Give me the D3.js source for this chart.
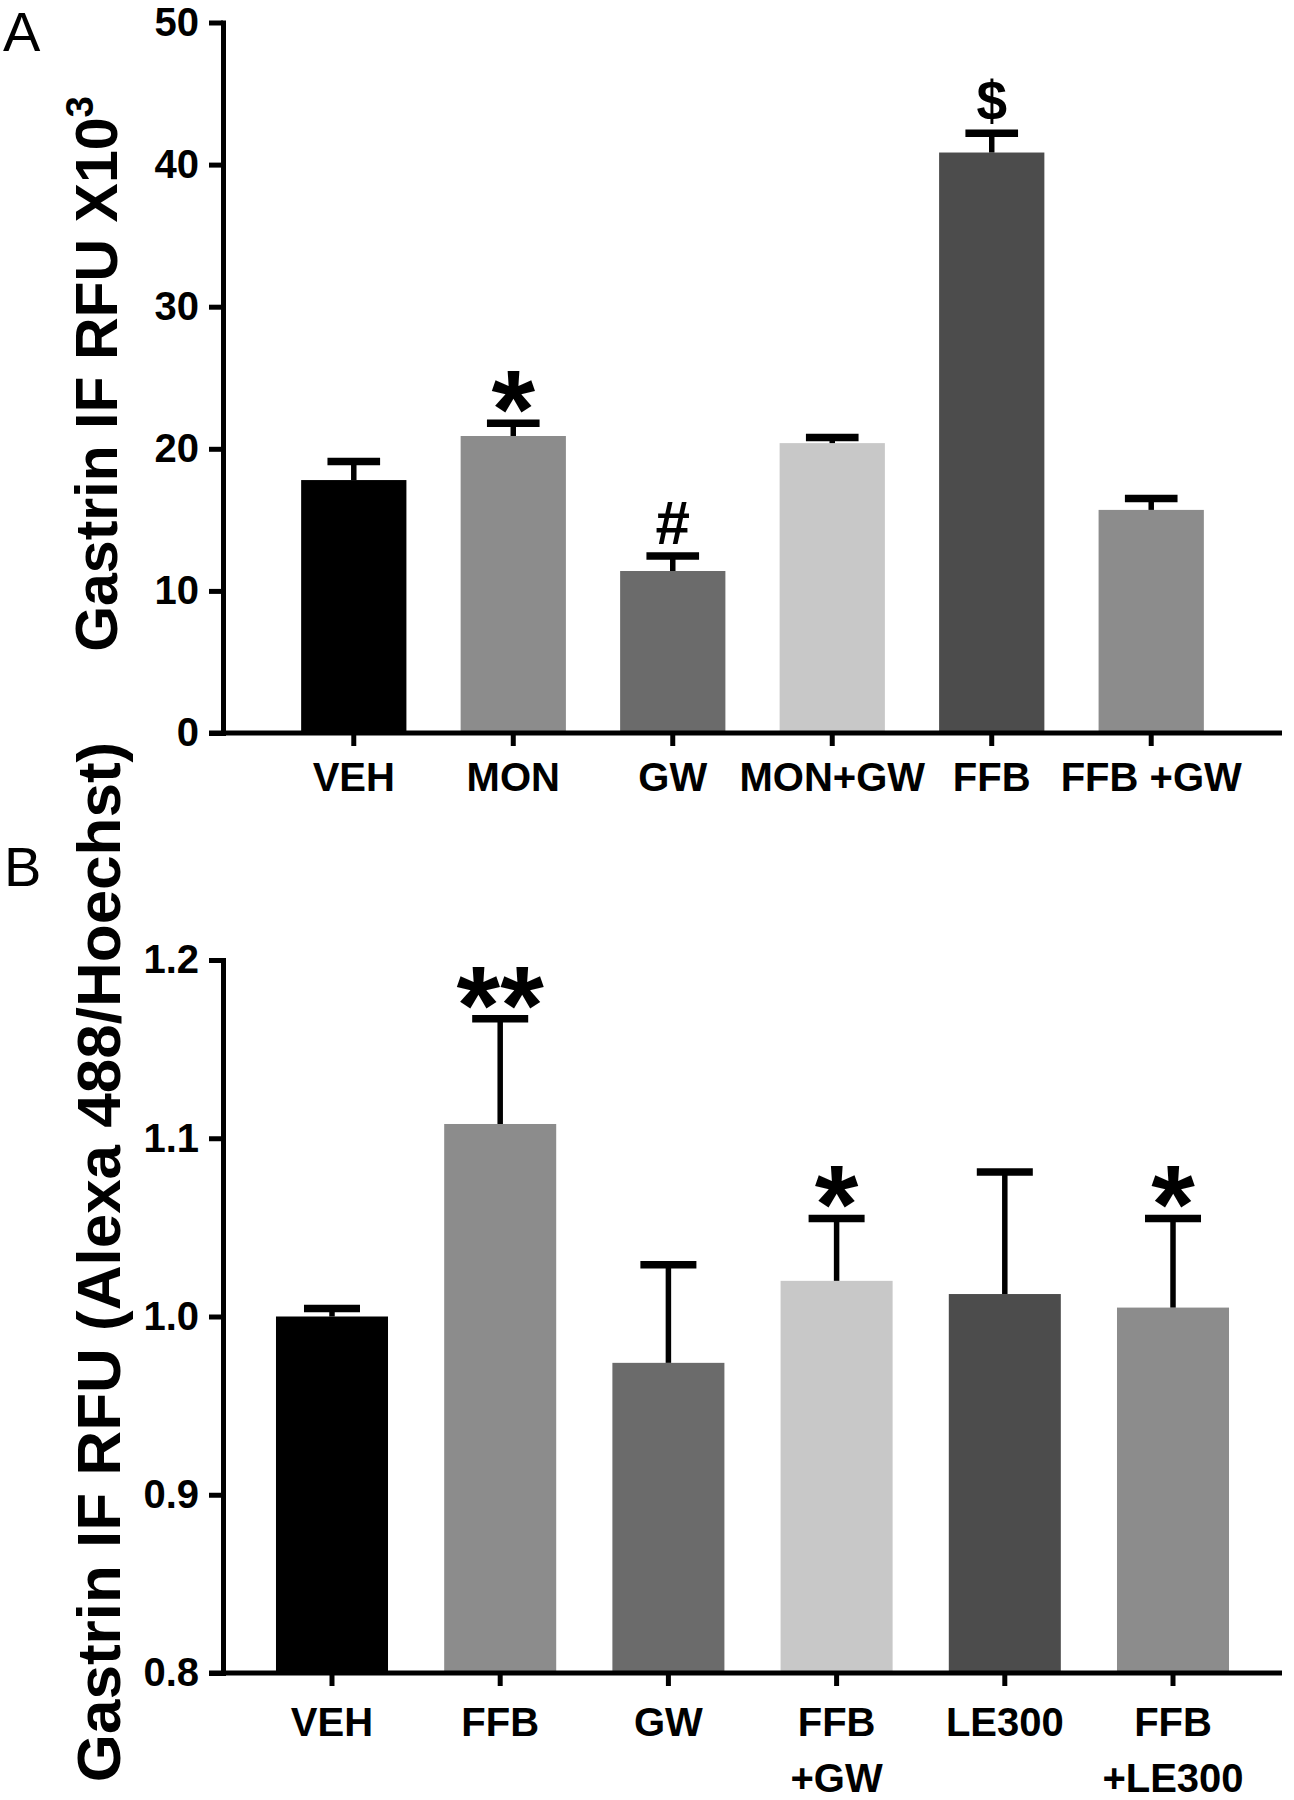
<!DOCTYPE html>
<html><head><meta charset="utf-8">
<script src="https://cdn.jsdelivr.net/npm/d3@7"></script>
<style>
body{margin:0;background:#fff}
svg{display:block}
text{font-family:"Liberation Sans",Arial,Helvetica,sans-serif;}
</style>
</head><body>
<svg id="chart" width="1294" height="1800"></svg>
<script>
// ---------- Panel A data ----------
const catsA   = ["VEH", "MON", "GW", "MON+GW", "FFB", "FFB +GW"];
const meanA   = [17.8, 20.9, 11.4, 20.4, 40.85, 15.7];
const upperA  = [19.1, 21.8, 12.45, 20.8, 42.2, 16.5];
const sigA    = ["", "*", "#", "", "$", ""];
const colorsA = ["#000000", "#8c8c8c", "#6b6b6b", "#c8c8c8", "#4c4c4c", "#8c8c8c"];
const ticksA  = [0, 10, 20, 30, 40, 50];

// ---------- Panel B data ----------
const catsB   = ["VEH", "FFB", "GW", "FFB\n+GW", "LE300", "FFB\n+LE300"];
const meanB   = [1.000, 1.108, 0.974, 1.020, 1.0126, 1.005];
const upperB  = [1.0045, 1.167, 1.029, 1.055, 1.081, 1.055];
const sigB    = ["", "**", "", "*", "", "*"];
const colorsB = ["#000000", "#8c8c8c", "#6b6b6b", "#c8c8c8", "#4c4c4c", "#8c8c8c"];
const ticksB  = [0.8, 0.9, 1.0, 1.1, 1.2];

const svg = d3.select("#chart");

function drawPanel(o) {
  const g = svg.append("g");
  const x = d3.scaleBand().domain(o.cats).range([223, 1282])
    .paddingInner(o.padIn).paddingOuter(o.padOut);
  const y = d3.scaleLinear().domain(o.domain).range(o.yRange);
  const bw = x.bandwidth();
  const data = o.cats.map((c, i) => ({c, m: o.mean[i], u: o.upper[i], s: o.sig[i], col: o.colors[i]}));

  // bars
  g.selectAll("rect.bar").data(data).join("rect")
    .attr("class", "bar")
    .attr("x", d => x(d.c)).attr("width", bw)
    .attr("y", d => y(d.m)).attr("height", d => y(o.domain[0]) - y(d.m))
    .attr("fill", d => d.col);

  // error stems
  g.selectAll("line.stem").data(data).join("line")
    .attr("class", "stem")
    .attr("x1", d => x(d.c) + bw / 2).attr("x2", d => x(d.c) + bw / 2)
    .attr("y1", d => y(d.m)).attr("y2", d => y(d.u))
    .attr("stroke", "#000").attr("stroke-width", 5.5);
  // caps
  g.selectAll("line.cap").data(data).join("line")
    .attr("class", "cap")
    .attr("x1", d => x(d.c) + bw / 4).attr("x2", d => x(d.c) + bw * 3 / 4)
    .attr("y1", d => y(d.u)).attr("y2", d => y(d.u))
    .attr("stroke", "#000").attr("stroke-width", 7.5);

  // significance symbols
  const symStyle = {
    "*":  {fs: 112, off: 25},
    "**": {fs: 112, off: 25},
    "#":  {fs: 62,  off: -12},
    "$":  {fs: 55,  off: -13}
  };
  g.selectAll("text.sig").data(data.filter(d => d.s)).join("text")
    .attr("class", "sig")
    .attr("x", d => x(d.c) + bw / 2)
    .attr("y", d => y(d.u) + symStyle[d.s].off)
    .attr("text-anchor", "middle")
    .attr("font-weight", "bold")
    .attr("font-size", d => symStyle[d.s].fs)
    .text(d => d.s);

  // y axis
  const ya = g.append("g").attr("transform", "translate(223,0)")
    .call(d3.axisLeft(y).tickValues(o.ticks).tickSize(14).tickPadding(10).tickSizeOuter(0)
      .tickFormat(o.fmt));
  ya.select(".domain").attr("stroke-width", 5).attr("stroke-linecap", "square");
  ya.selectAll(".tick line").attr("stroke-width", 5);
  ya.selectAll(".tick text").attr("font-size", 40).attr("font-weight", "bold")
    .attr("font-family", "'Liberation Sans',Arial,sans-serif").attr("fill", "#000");

  // x axis
  const base = y(o.domain[0]);
  const xa = g.append("g").attr("transform", `translate(0,${base})`)
    .call(d3.axisBottom(x).tickSize(13).tickPadding(o.xPad).tickSizeOuter(0));
  xa.select(".domain").attr("stroke-width", 5).attr("d", `M209,0H1282`);
  xa.selectAll(".tick line").attr("stroke-width", 5);
  xa.selectAll(".tick text").attr("font-size", 40).attr("font-weight", "bold")
    .attr("font-family", "'Liberation Sans',Arial,sans-serif").attr("fill", "#000")
    .each(function(d) {
      const parts = d.split("\n");
      const t = d3.select(this);
      if (parts.length > 1) {
        t.text(null);
        parts.forEach((p, i) => {
          t.append("tspan").attr("x", 0).attr("dy", i === 0 ? "0.71em" : "1.4em").text(p);
        });
        t.attr("dy", null);
      }
    });

  // y label
  const yl = g.append("text")
    .attr("transform", `translate(${o.labX},${o.labY}) rotate(-90)`)
    .attr("text-anchor", "middle")
    .attr("font-weight", "bold").attr("font-size", o.labFs);
  yl.append("tspan").text(o.label);
  if (o.sup) yl.append("tspan").attr("font-size", o.labFs * 0.65).attr("dy", -o.labFs * 0.4).text(o.sup);

  // panel letter
  svg.append("text").attr("x", o.letX).attr("y", o.letY)
    .attr("font-size", 56).attr("font-weight", "normal").text(o.letter);
}

drawPanel({
  cats: catsA, mean: meanA, upper: upperA, sig: sigA, colors: colorsA, ticks: ticksA,
  domain: [0, 50], yRange: [733, 22.5], padIn: 0.34, padOut: 0.49, xPad: 17,
  fmt: d3.format("d"),
  label: "Gastrin IF RFU X10", sup: "3", labX: 117, labY: 374, labFs: 59,
  letter: "A", letX: 3, letY: 51
});

drawPanel({
  cats: catsB, mean: meanB, upper: upperB, sig: sigB, colors: colorsB, ticks: ticksB,
  domain: [0.8, 1.2], yRange: [1673, 960], padIn: 0.334, padOut: 0.315, xPad: 22,
  fmt: d3.format(".1f"),
  label: "Gastrin IF RFU (Alexa 488/Hoechst)", sup: null, labX: 120, labY: 1262, labFs: 62,
  letter: "B", letX: 4, letY: 886
});
</script>
</body></html>
